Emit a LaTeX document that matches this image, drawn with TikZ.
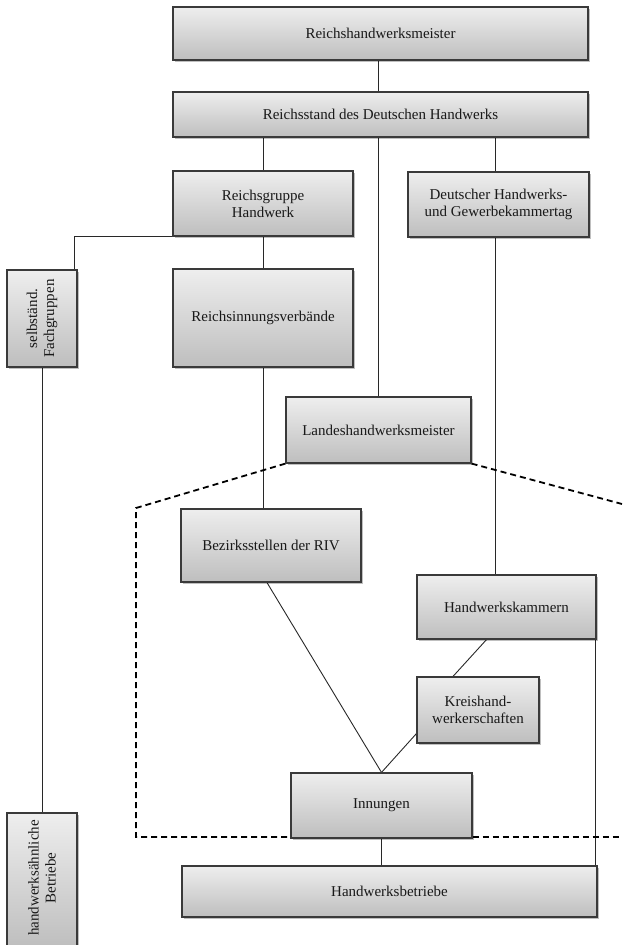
\documentclass[tikz,border=0pt]{standalone}
\usepackage{fontspec}
\setmainfont{Liberation Serif}
\usetikzlibrary{shadows,backgrounds,calc}
\definecolor{boxtop}{RGB}{238,238,238}
\definecolor{boxbot}{RGB}{190,190,190}
\definecolor{boxline}{RGB}{58,58,58}
\definecolor{linkgray}{RGB}{40,40,40}
\begin{document}
\begin{tikzpicture}[x=1pt,y=1pt,
  orgbox/.style={draw=boxline, line width=1.2pt, top color=boxtop, bottom color=boxbot,
    inner sep=0pt, align=center, font=\fontsize{15}{17}\selectfont, text=black!90,
    drop shadow={shadow xshift=2pt, shadow yshift=-2pt, opacity=0.25, fill=black}},
  wh/.style 2 args={minimum width=#1pt, minimum height=#2pt},
  sidetext/.style={rotate=90, align=center, inner sep=0pt, font=\fontsize{15}{17}\selectfont, text=black!90},
  link/.style={draw=linkgray, line width=0.9pt},
  zone/.style={draw=black, line width=1.8pt, dash pattern=on 6pt off 4pt}]
\useasboundingbox (0,0) rectangle (622,-945);

% organisation boxes
\node[orgbox, wh={415}{53}] (rhm) at (380.5,-33.5) {Reichshandwerksmeister};
\node[orgbox, wh={415}{45}] (rstand) at (380.5,-114.5) {Reichsstand des Deutschen Handwerks};
\node[orgbox, wh={180}{65}] (rgh) at (263,-203.5) {Reichsgruppe\\Handwerk};
\node[orgbox, wh={181}{65}] (dhgk) at (498.5,-204.5) {Deutscher Handwerks-\\und Gewerbekammertag};
\node[orgbox, wh={70}{97}] (sfg) at (42,-318.5) {};
\node[sidetext] at (sfg) {selbständ.\\Fachgruppen};
\node[orgbox, wh={180}{98}] (riv) at (263,-318) {Reichsinnungsverbände};
\node[orgbox, wh={185}{66}] (lhm) at (378.5,-430) {Landeshandwerksmeister};
\node[orgbox, wh={180}{73}] (bez) at (271,-545.5) {Bezirksstellen der RIV};
\node[orgbox, wh={179}{64}] (hwk) at (506.5,-607) {Handwerkskammern};
\node[orgbox, wh={122}{66}] (kh) at (478,-710) {Kreishand-\\werkerschaften};
\node[orgbox, wh={181}{65}] (inn) at (381.5,-805.5) {Innungen};
\node[orgbox, wh={415}{51}] (hwb) at (389.5,-891.5) {Handwerksbetriebe};
\node[orgbox, wh={70}{135}] (hab) at (42,-880.5) {};
\node[sidetext] at (42,-878) {handwerksähnliche\\Betriebe};

\begin{scope}[on background layer]
  % connectors
  \coordinate (kx) at (495,0);
  \draw[link] (rhm.south -| lhm.north) -- (rstand.north -| lhm.north);
  \draw[link] (rstand.south -| lhm.north) -- (lhm.north);
  \draw[link] (rstand.south -| rgh.north) -- (rgh.north);
  \draw[link] (rstand.south -| kx) -- (dhgk.north -| kx);
  \draw[link] (dhgk.south -| kx) -- (hwk.north -| kx);
  \draw[link] (rgh.south west) -| ($(sfg.north east)+(-3,0)$);
  \draw[link] (rgh.south) -- (riv.north);
  \draw[link] (sfg.south) -- (hab.north);
  \draw[link] (riv.south) -- (riv.south |- bez.north);
  \draw[link] ($(bez.south)+(-4,0)$) -- (inn.north);
  \draw[link] ($(hwk.south)+(-20,0)$) -- ($(kh.north)+(-25,0)$);
  \draw[link] ($(kh.south west)+(0,10)$) -- (inn.north);
  \draw[link] (inn.south) -- (inn.south |- hwb.north);
  \coordinate (hr) at ($(hwk.south east)+(-1,0)$);
  \draw[link] (hr) -- (hr |- hwb.north);

  % dashed regional boundary
  \coordinate (zl1) at (136,-508);
  \coordinate (zl2) at (136,-837);
  \coordinate (zr1) at (622,-504);
  \coordinate (zr2) at (622,-837);
  \draw[zone] (lhm.south west) -- (zl1) -- (zl2) -- (zl2 -| inn.west);
  \draw[zone] (zr2 -| inn.east) -- (zr2);
  \draw[zone] (lhm.south east) -- (zr1);
\end{scope}
\end{tikzpicture}
\end{document}
